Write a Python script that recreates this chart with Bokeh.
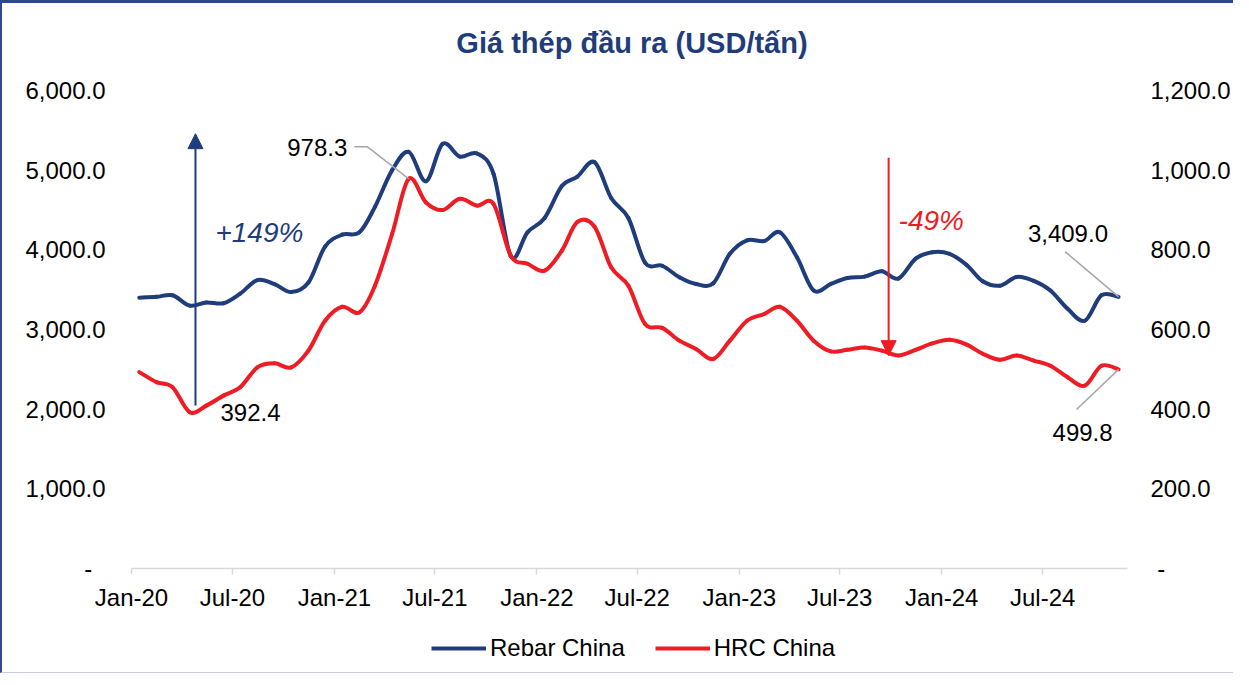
import numpy as np
import pandas as pd
from bokeh.plotting import figure
from bokeh.layouts import column
from bokeh.models import (Range1d, LinearAxis, FixedTicker, NumeralTickFormatter,
                          DatetimeTickFormatter, Label, Arrow, NormalHead, Legend,
                          LegendItem, ColumnDataSource)
from bokeh.embed import file_html
from bokeh.resources import INLINE

# ---------------- data ----------------
months = pd.date_range("2020-01-01", "2024-11-01", freq="MS") + pd.Timedelta(days=14)

rebar_china = [3400, 3410, 3430, 3300, 3340, 3330, 3450, 3620, 3570, 3470, 3590, 4040,
               4190, 4220, 4540, 5000, 5230, 4860, 5330, 5170, 5210, 4950, 3920, 4220,
               4400, 4800, 4920, 5100, 4650, 4400, 3840, 3800, 3655, 3570, 3580, 3950,
               4120, 4110, 4220, 3906, 3490, 3572, 3647, 3664, 3730, 3640, 3890, 3970,
               3950, 3810, 3605, 3550, 3660, 3610, 3490, 3260, 3110, 3430, 3409.0]

hrc_china = [493, 468, 455, 392.4, 409, 434, 455, 505, 515, 505, 547, 622,
             657, 643, 710, 840, 978.3, 919, 900, 928, 911, 915, 785, 765,
             748, 798, 870, 858, 756, 710, 614, 604, 572, 551, 526, 572,
             622, 639, 657, 622, 572, 545, 549, 555, 547, 535, 549, 565,
             574, 562, 539, 524, 535, 522, 509, 480, 459, 509, 499.8]

tick_labels = ["Jan-20", "Jul-20", "Jan-21", "Jul-21", "Jan-22",
               "Jul-22", "Jan-23", "Jul-23", "Jan-24", "Jul-24"]
left_ticks = [0, 1000, 2000, 3000, 4000, 5000, 6000]
right_ticks = [0, 200, 400, 600, 800, 1000, 1200]

series_names = ["Rebar China", "HRC China"]
chart_title = "Giá thép đầu ra (USD/tấn)"

# ---------------- styling ----------------
BLUE = "#1F3C7B"
RED = "#EE1C25"
GREY = "#A6A6A6"
FONT = "Liberation Sans"
W = 1231


def ms(ts):
    return pd.Timestamp(ts).timestamp() * 1000.0


X0, X1 = ms("2020-01-01"), ms("2024-12-01")


def at(month_offset):
    """position (months from Jan-20) on the time axis"""
    return X0 + month_offset / 59.0 * (X1 - X0)


x_ms = np.array([ms(d) for d in months])


def bezier_source(xs, ys):
    xs = np.asarray(xs, float)
    ys = np.asarray(ys, float)
    n = len(xs)
    xp = np.concatenate([[xs[0]], xs, [xs[-1]]])
    yp = np.concatenate([[ys[0]], ys, [ys[-1]]])
    i = np.arange(n - 1)
    cx0 = xs[i] + (xp[i + 2] - xp[i]) / 6.0
    cy0 = ys[i] + (yp[i + 2] - yp[i]) / 6.0
    cx1 = xs[i + 1] - (xp[i + 3] - xp[i + 1]) / 6.0
    cy1 = ys[i + 1] - (yp[i + 3] - yp[i + 1]) / 6.0
    return ColumnDataSource(dict(x0=xs[:-1], y0=ys[:-1], x1=xs[1:], y1=ys[1:],
                                 cx0=cx0, cy0=cy0, cx1=cx1, cy1=cy1))


def strip(height):
    f = figure(width=W, height=height, x_range=Range1d(0, 1), y_range=Range1d(0, 1),
               output_backend="svg", toolbar_location=None,
               x_axis_location=None, y_axis_location=None,
               min_border_left=0, min_border_right=0, min_border_top=0, min_border_bottom=0)
    f.outline_line_color = None
    f.grid.visible = False
    f.background_fill_color = "white"
    f.border_fill_color = "white"
    return f


# ---------------- title strip ----------------
tf = strip(60)
tf.add_layout(Label(x=0.5025, y=0.35, text=chart_title, text_align="center",
                    text_baseline="middle", text_font=FONT, text_font_style="bold",
                    text_font_size="29px", text_color=BLUE))

# ---------------- main chart ----------------
p = figure(width=W, height=565, x_axis_type="datetime",
           x_range=Range1d(X0, X1), y_range=Range1d(0, 6000),
           output_backend="svg", toolbar_location=None,
           min_border_left=129, min_border_right=105,
           min_border_top=27, min_border_bottom=60)
p.extra_y_ranges = {"hrc": Range1d(0, 1200)}
p.outline_line_color = None
p.grid.visible = False
p.background_fill_color = "white"
p.border_fill_color = "white"

# x axis
xa = p.xaxis[0]
tick_ms = [ms(t) for t in pd.date_range("2020-01-01", periods=len(tick_labels), freq="6MS")]
xa.ticker = FixedTicker(ticks=tick_ms)
xa.formatter = DatetimeTickFormatter(months="%b-%y", days="%b-%y", years="%b-%y")
xa.major_label_overrides = {t: lab for t, lab in zip(tick_ms, tick_labels)}
xa.axis_line_color = "#D9D9D9"
xa.axis_line_width = 1.5
xa.major_tick_line_color = "#D9D9D9"
xa.major_tick_line_width = 1.5
xa.major_tick_in = 0
xa.major_tick_out = 6
xa.minor_tick_line_color = None
xa.major_label_text_font = FONT
xa.major_label_text_font_size = "24px"
xa.major_label_text_color = "black"
xa.major_label_standoff = 9

# left axis
ya = p.yaxis[0]
ya.ticker = FixedTicker(ticks=left_ticks)
ya.formatter = NumeralTickFormatter(format="0,0.0")
ya.major_label_overrides = {0: "-\u00a0\u00a0"}
ya.axis_line_color = None
ya.major_tick_line_color = None
ya.minor_tick_line_color = None
ya.major_tick_out = 0
ya.major_tick_in = 0
ya.major_label_standoff = 26
ya.major_label_text_font = FONT
ya.major_label_text_font_size = "24px"
ya.major_label_text_color = "black"

# right axis
ra = LinearAxis(y_range_name="hrc", ticker=FixedTicker(ticks=right_ticks),
                formatter=NumeralTickFormatter(format="0,0.0"))
ra.major_label_overrides = {0: "\u00a0-"}
ra.axis_line_color = None
ra.major_tick_line_color = None
ra.minor_tick_line_color = None
ra.major_tick_out = 0
ra.major_tick_in = 0
ra.major_label_standoff = 23
ra.major_label_text_font = FONT
ra.major_label_text_font_size = "24px"
ra.major_label_text_color = "black"
p.add_layout(ra, "right")

# lines (smoothed like Excel)
p.bezier(x0="x0", y0="y0", x1="x1", y1="y1", cx0="cx0", cy0="cy0", cx1="cx1", cy1="cy1",
         source=bezier_source(x_ms, rebar_china), line_color=BLUE, line_width=4,
         line_cap="round")
p.bezier(x0="x0", y0="y0", x1="x1", y1="y1", cx0="cx0", cy0="cy0", cx1="cx1", cy1="cy1",
         source=bezier_source(x_ms, hrc_china), line_color=RED, line_width=4,
         line_cap="round", y_range_name="hrc")

# leader lines for data labels
i_max = int(np.argmax(hrc_china))
i_min = int(np.argmin(hrc_china))
p.line(x=[at(13.2), at(13.96), x_ms[i_max]], y=[1059, 1059, hrc_china[i_max]],
       line_color=GREY, line_width=1.5, y_range_name="hrc")
p.line(x=[at(55.3), x_ms[-1]], y=[3977, rebar_china[-1]], line_color=GREY, line_width=1.5)
p.line(x=[at(55.98), x_ms[-1]], y=[399, hrc_china[-1]], line_color=GREY, line_width=1.5,
       y_range_name="hrc")


# data labels
def lab(text, x, y, align="left", rng="default"):
    p.add_layout(Label(x=x, y=y, text=text, text_align=align, text_baseline="middle",
                       text_font=FONT, text_font_size="24px", text_color="black",
                       y_range_name=rng))


lab(f"{hrc_china[i_max]:,.1f}", at(12.78), 1056, align="right", rng="hrc")
lab(f"{hrc_china[i_min]:,.1f}", at(5.27), 391, rng="hrc")
lab(f"{rebar_china[-1]:,.1f}", at(53.1), 4203)
lab(f"{hrc_china[-1]:,.1f}", at(54.56), 341, rng="hrc")

# change arrows
pct_up = (hrc_china[i_max] / hrc_china[i_min] - 1) * 100
pct_dn = (hrc_china[-1] / hrc_china[i_max] - 1) * 100
p.add_layout(Arrow(x_start=at(3.79), y_start=2045, x_end=at(3.79), y_end=5458,
                   line_color=BLUE, line_width=2,
                   end=NormalHead(size=15, fill_color=BLUE, line_color=BLUE)))
p.add_layout(Arrow(x_start=at(44.85), y_start=5157, x_end=at(44.85), y_end=2672,
                   line_color=RED, line_width=2,
                   end=NormalHead(size=15, fill_color=RED, line_color=RED)))
p.add_layout(Label(x=at(4.97), y=4216, text=f"+{pct_up:.0f}%", text_align="left",
                   text_baseline="middle", text_font=FONT, text_font_size="28px",
                   text_font_style="italic", text_color=BLUE))
p.add_layout(Label(x=at(45.44), y=4366, text=f"{pct_dn:.0f}%", text_align="left",
                   text_baseline="middle", text_font=FONT, text_font_size="28px",
                   text_font_style="italic", text_color=RED))

# ---------------- legend strip ----------------
lf = strip(44)
# swatch renderers kept outside the visible range, only used for the legend keys
lr1 = lf.line(x=[0, 1], y=[-5, -5], line_color=BLUE, line_width=4)
lr2 = lf.line(x=[0, 1], y=[-5, -5], line_color=RED, line_width=4)
legend = Legend(items=[LegendItem(label=series_names[0], renderers=[lr1]),
                       LegendItem(label=series_names[1], renderers=[lr2])],
                orientation="horizontal", location=(300, 10),
                glyph_width=55, glyph_height=24, label_height=24,
                label_standoff=4, spacing=30, padding=0, margin=0,
                border_line_color=None, background_fill_alpha=0,
                label_text_font=FONT, label_text_font_size="24px",
                label_text_color="black")
lf.add_layout(legend, "center")

layout = column(tf, p, lf, spacing=0)
layout.styles = {"border-left": "2px solid #2E4A8C", "border-top": "3px solid #2E4A8C",
                 "border-bottom": "1px solid #C9CCE3"}

open("out.html", "w").write(file_html(layout, INLINE))
